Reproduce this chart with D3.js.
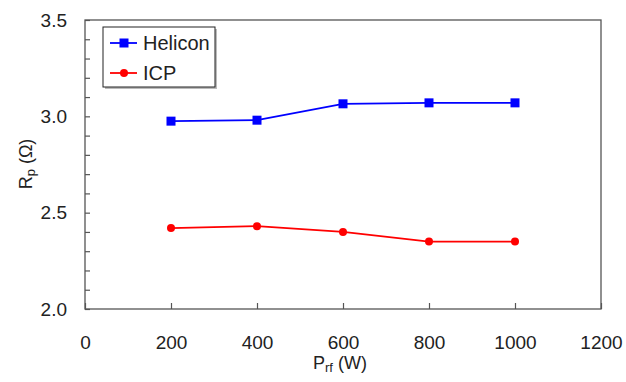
<!DOCTYPE html>
<html>
<head>
<meta charset="utf-8">
<script src="https://cdn.jsdelivr.net/npm/d3@7.9.0/dist/d3.min.js"></script>
<style>
  body { margin: 0; background: #fff; }
  svg { font-family: Arial, "Liberation Sans", sans-serif; }
</style>
</head>
<body>
<svg id="chart" width="626" height="382"></svg>
<script>
// data
const power = [200, 400, 600, 800, 1000];
const helicon = [2.975, 2.98, 3.065, 3.07, 3.07];
const icp = [2.42, 2.43, 2.40, 2.35, 2.35];
const xTicks = [0, 200, 400, 600, 800, 1000, 1200];
const yTicks = [2.0, 2.5, 3.0, 3.5];

const series = [
  { name: 'Helicon', values: helicon, color: '#0000ff', shape: 'square' },
  { name: 'ICP', values: icp, color: '#ff0000', shape: 'circle' }
];

const svg = d3.select('#chart');
const margin = { left: 85, right: 25, top: 20, bottom: 73 };
const W = 626, H = 382;

const x = d3.scaleLinear().domain([0, 1200]).range([margin.left, W - margin.right]);
const y = d3.scaleLinear().domain([2.0, 3.5]).range([H - margin.bottom, margin.top]);

// frame
svg.append('rect')
  .attr('x', x(0)).attr('y', y(3.5))
  .attr('width', x(1200) - x(0)).attr('height', y(2.0) - y(3.5))
  .attr('fill', 'none').attr('stroke', '#555').attr('stroke-width', 1.3);

// y axis with minor ticks every 0.1
const yAxis = d3.axisLeft(y)
  .tickValues(d3.range(20, 36).map(v => v / 10))
  .tickSize(-5)
  .tickFormat(d => yTicks.some(t => Math.abs(t - d) < 1e-6) ? d3.format('.1f')(d) : '');
const gy = svg.append('g').attr('transform', `translate(${x(0)},0)`).call(yAxis);
gy.select('.domain').remove();
gy.selectAll('line').attr('stroke', '#555').attr('stroke-width', 1.2);
gy.selectAll('text').attr('font-size', 19).attr('fill', '#222').attr('x', -18);

// x axis
const xAxis = d3.axisBottom(x).tickValues(xTicks).tickSize(-6).tickFormat(d3.format('d'));
const gx = svg.append('g').attr('transform', `translate(0,${y(2.0)})`).call(xAxis);
gx.select('.domain').remove();
gx.selectAll('line').attr('stroke', '#555').attr('stroke-width', 1.2);
gx.selectAll('text').attr('font-size', 19).attr('fill', '#222').attr('y', 27);

// lines and markers
const line = d3.line().x((d, i) => x(power[i])).y(d => y(d));
series.forEach(s => {
  svg.append('path')
    .attr('d', line(s.values))
    .attr('fill', 'none').attr('stroke', s.color).attr('stroke-width', 1.8);
  s.values.forEach((v, i) => {
    if (s.shape === 'square') {
      svg.append('rect')
        .attr('x', x(power[i]) - 4.5).attr('y', y(v) - 4.5)
        .attr('width', 9).attr('height', 9).attr('fill', s.color);
    } else {
      svg.append('circle')
        .attr('cx', x(power[i])).attr('cy', y(v)).attr('r', 4).attr('fill', s.color);
    }
  });
});

// legend
const lg = svg.append('g');
lg.append('rect').attr('x', 105).attr('y', 29).attr('width', 112).attr('height', 60).attr('fill', '#bbb');
lg.append('rect').attr('x', 103).attr('y', 27).attr('width', 112).attr('height', 60)
  .attr('fill', '#fff').attr('stroke', '#222').attr('stroke-width', 1);
series.forEach((s, i) => {
  const cy = 43 + i * 30;
  lg.append('line').attr('x1', 110).attr('x2', 137).attr('y1', cy).attr('y2', cy)
    .attr('stroke', s.color).attr('stroke-width', 1.8);
  if (s.shape === 'square') {
    lg.append('rect').attr('x', 119.5).attr('y', cy - 4.5).attr('width', 9).attr('height', 9).attr('fill', s.color);
  } else {
    lg.append('circle').attr('cx', 124).attr('cy', cy).attr('r', 4).attr('fill', s.color);
  }
  lg.append('text').attr('x', 143).attr('y', cy + 7).attr('font-size', 20).attr('fill', '#222').text(s.name);
});

// axis titles
const xt = svg.append('text').attr('x', 313).attr('y', 369).attr('font-size', 18).attr('fill', '#222');
xt.append('tspan').text('P');
xt.append('tspan').attr('font-size', 13).attr('dy', 3).text('rf');
xt.append('tspan').attr('dy', -3).text(' (W)');

const yt = svg.append('text')
  .attr('transform', `translate(32,${(193 + 135) / 2}) rotate(-90)`)
  .attr('text-anchor', 'middle').attr('font-size', 18).attr('fill', '#222');
yt.append('tspan').text('R');
yt.append('tspan').attr('font-size', 13).attr('dy', 3).text('p');
yt.append('tspan').attr('dy', -3).text(' (Ω)');
</script>
</body>
</html>
